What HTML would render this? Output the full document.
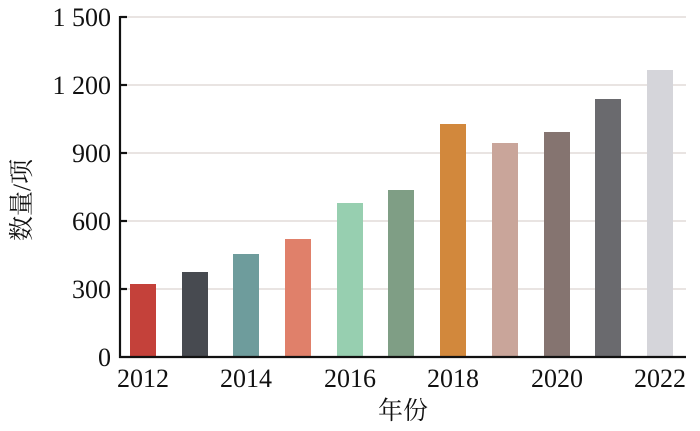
<!DOCTYPE html>
<html><head><meta charset="utf-8"><style>body{margin:0;background:#fff}svg{display:block}</style></head>
<body>
<svg width="700" height="431" xmlns="http://www.w3.org/2000/svg" font-family="Liberation Serif, Noto Serif CJK SC, serif">
<g stroke="#e2dcd8" stroke-width="1.5">
<line x1="120" y1="17" x2="686" y2="17"/>
<line x1="120" y1="85" x2="686" y2="85"/>
<line x1="120" y1="153" x2="686" y2="153"/>
<line x1="120" y1="221" x2="686" y2="221"/>
<line x1="120" y1="289" x2="686" y2="289"/>
</g>
<g>
<rect x="130" y="284" width="26" height="73" fill="#c4413a"/>
<rect x="182" y="272" width="26" height="85" fill="#474a50"/>
<rect x="233" y="254" width="26" height="103" fill="#6e9c9c"/>
<rect x="285" y="239" width="26" height="118" fill="#e0806a"/>
<rect x="337" y="203" width="26" height="154" fill="#97cfb0"/>
<rect x="388" y="190" width="26" height="167" fill="#7f9e85"/>
<rect x="440" y="124" width="26" height="233" fill="#d2883c"/>
<rect x="492" y="143" width="26" height="214" fill="#c9a59a"/>
<rect x="544" y="132" width="26" height="225" fill="#857470"/>
<rect x="595" y="99" width="26" height="258" fill="#6a6a6e"/>
<rect x="647" y="70" width="26" height="287" fill="#d5d5da"/>
</g>
<g stroke="#111" stroke-width="2.2" fill="none">
<line x1="120" y1="16" x2="120" y2="358"/>
<line x1="119" y1="357" x2="686" y2="357"/>
<line x1="120" y1="17" x2="127" y2="17"/>
<line x1="120" y1="85" x2="127" y2="85"/>
<line x1="120" y1="153" x2="127" y2="153"/>
<line x1="120" y1="221" x2="127" y2="221"/>
<line x1="120" y1="289" x2="127" y2="289"/>
</g>
<g font-size="26" fill="#111" text-anchor="end">
<text x="111" y="26">1 500</text>
<text x="111" y="94">1 200</text>
<text x="111" y="162">900</text>
<text x="111" y="230">600</text>
<text x="111" y="298">300</text>
<text x="111" y="366">0</text>
</g>
<g font-size="26" fill="#111" text-anchor="middle">
<text x="143" y="387">2012</text>
<text x="246" y="387">2014</text>
<text x="350" y="387">2016</text>
<text x="453" y="387">2018</text>
<text x="557" y="387">2020</text>
<text x="660" y="387">2022</text>
<text x="403" y="419" font-size="25">年份</text>
<text transform="translate(30,200) rotate(-90)" font-size="25">数量/项</text>
</g>
</svg>
</body></html>
